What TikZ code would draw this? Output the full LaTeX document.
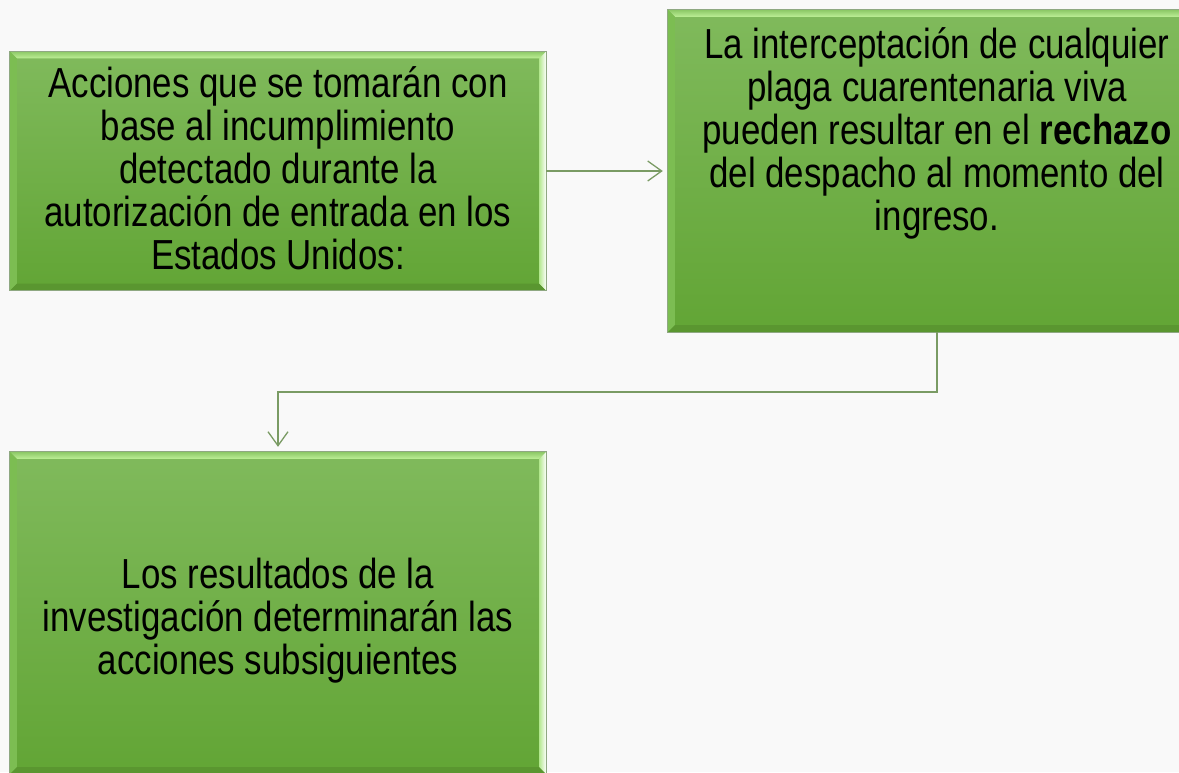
\documentclass[tikz,border=0pt]{standalone}
\usepackage{fontspec}
\setmainfont{Liberation Sans}[FakeStretch=0.83]
\usetikzlibrary{arrows.meta,calc}
\definecolor{bg}{HTML}{F9F9F9}
\definecolor{filltop}{HTML}{80BA5C}
\definecolor{fillbot}{HTML}{62A535}
\definecolor{edgecol}{HTML}{8FA882}
\definecolor{bandtopA}{HTML}{8CC866}
\definecolor{bandtopB}{HTML}{BDEE96}
\definecolor{bandleft}{HTML}{7CBD52}
\definecolor{bandright}{HTML}{B4E890}
\definecolor{bandbot}{HTML}{5A9630}
\definecolor{linkcol}{HTML}{7A9B64}
\newcommand{\bevelbands}[1]{%
  \shade[top color=bandtopA,bottom color=bandtopB]
    (#1.north west) -- (#1.north east) -- ([shift={(-7,7)}]#1.north east) -- ([shift={(7,7)}]#1.north west) -- cycle;
  \fill[bandleft]
    (#1.north west) -- ([shift={(7,7)}]#1.north west) -- ([shift={(7,-7)}]#1.south west) -- (#1.south west) -- cycle;
  \shade[left color=bandright,right color=white]
    (#1.north east) -- (#1.south east) -- ([shift={(-7,-7)}]#1.south east) -- ([shift={(-7,7)}]#1.north east) -- cycle;
  \fill[bandbot]
    (#1.south west) -- ([shift={(7,-7)}]#1.south west) -- ([shift={(-7,-7)}]#1.south east) -- (#1.south east) -- cycle;
  \draw[edgecol,line width=1pt] (#1.north west) rectangle (#1.south east);
}
\begin{document}
\begin{tikzpicture}[x=1pt,y=-1pt,
  greenbox/.style={rectangle,inner sep=0pt,top color=filltop,bottom color=fillbot,draw=none},
  boxtext/.style={inner sep=0pt,align=center,font=\fontsize{42}{43}\selectfont,text=black},
  link/.style={draw=linkcol,line width=1.3pt,-{Straight Barb[length=14pt,width=20pt,line width=1.3pt]},shorten >=5pt}]
\useasboundingbox[fill=bg] (0,0) rectangle (1179,772);
\begin{scope}
\clip (0,0) rectangle (1179,772);
% boxes
\node[greenbox,minimum width=536pt,minimum height=239pt] (A) at (278,171) {};
\node[greenbox,minimum width=538pt,minimum height=322pt] (B) at (937,171) {};
\node[greenbox,minimum width=536pt,minimum height=322pt] (C) at (278,613) {};
\bevelbands{A}
\bevelbands{B}
\bevelbands{C}
\end{scope}
% texts
\node[boxtext] (tA) at (278,168) {Acciones que se tomarán con\\base al incumplimiento\\detectado durante la\\autorización de entrada en los\\Estados Unidos:};
\node[boxtext] (tB) at (937,133) {La interceptación de cualquier\\plaga cuarentenaria viva\\pueden resultar en el \textbf{rechazo}\\del despacho al momento del\\ingreso.};
\node[boxtext] (tC) at (278,621) {Los resultados de la\\investigación determinarán las\\acciones subsiguientes};
% connectors
\coordinate (m) at (0,392);
\draw[link] (A.east) -- (B.west);
\draw[link] (B.south) -- (B.south |- m) -- (C.north |- m) -- (C.north);
\end{tikzpicture}
\end{document}
